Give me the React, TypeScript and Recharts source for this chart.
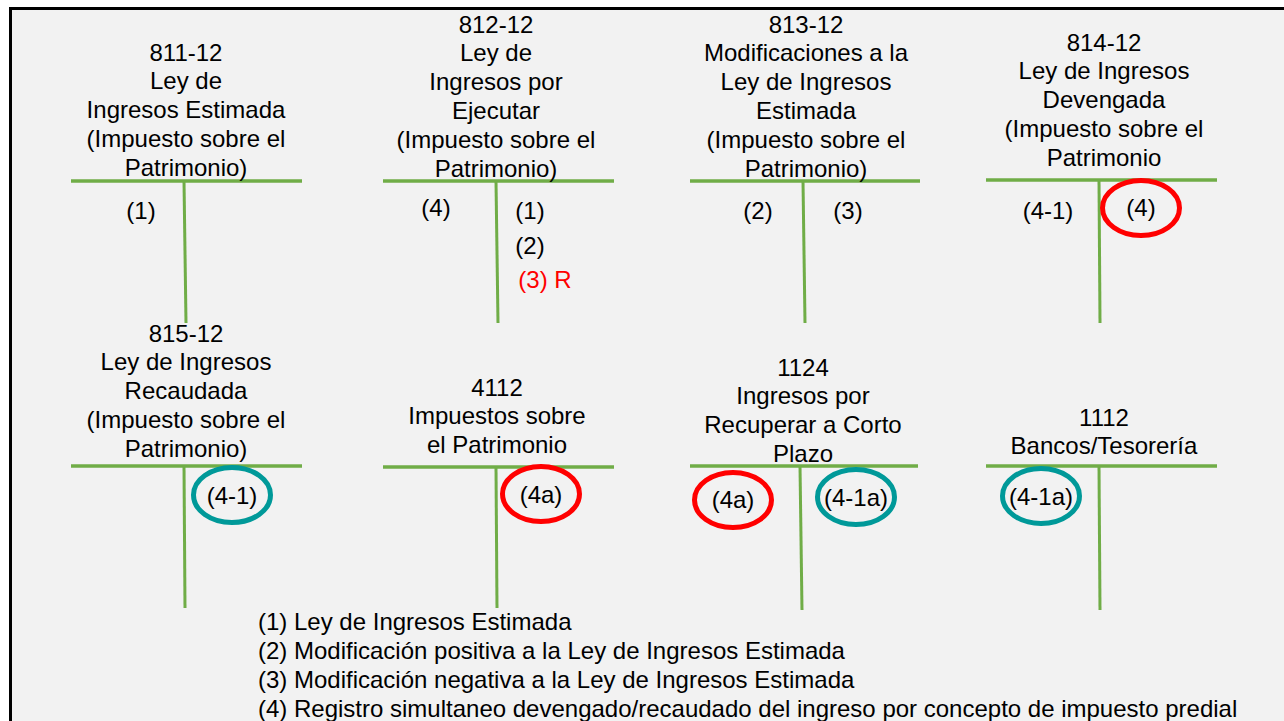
import React from 'react';
import { ComposedChart, XAxis, YAxis, Scatter, ReferenceLine } from 'recharts';

const W = 1284;
const H = 721;
const GREEN = '#70ad47';
const FONT = '"Liberation Sans", Arial, sans-serif';

// T-account titles (one list of lines per account)
const accountTitles: string[][] = [
    ['811-12', 'Ley de', 'Ingresos Estimada', '(Impuesto sobre el', 'Patrimonio)'],
    ['812-12', 'Ley de', 'Ingresos por', 'Ejecutar', '(Impuesto sobre el', 'Patrimonio)'],
    ['813-12', 'Modificaciones a la', 'Ley de Ingresos', 'Estimada', '(Impuesto sobre el', 'Patrimonio)'],
    ['814-12', 'Ley de Ingresos', 'Devengada', '(Impuesto sobre el', 'Patrimonio'],
    ['815-12', 'Ley de Ingresos', 'Recaudada', '(Impuesto sobre el', 'Patrimonio)'],
    ['4112', 'Impuestos sobre', 'el Patrimonio'],
    ['1124', 'Ingresos por', 'Recuperar a Corto', 'Plazo'],
    ['1112', 'Bancos/Tesorería'],
];
const titleX = [186, 496, 806, 1104, 186, 497, 803, 1104];
const titleTopY = [52, 24, 24, 42, 333, 387, 367, 417];
const LINE_STEP = 28.8;

// T lines
const hLineX1 = [71, 383, 690, 986, 71, 383, 690, 986];
const hLineX2 = [302, 614, 920, 1217, 302, 614, 918, 1217];
const hLineY = [181, 181, 181, 180, 466, 467, 466, 466];
const vLineTopX = [184, 496, 803, 1099, 184, 496, 800, 1099];
const vLineBottomX = [186, 498, 805, 1100, 185, 497, 802, 1100];
const vLineBottomY = [323, 323, 323, 323, 608, 608, 610, 610];

// entries inside the accounts
const entryLabels = ['(1)', '(4)', '(1)', '(2)', '(3) R', '(2)', '(3)', '(4-1)', '(4)', '(4-1)', '(4a)', '(4a)', '(4-1a)', '(4-1a)'];
const entryX = [141, 436, 530, 530, 545, 758, 848, 1048, 1141, 232, 541, 733, 856, 1041];
const entryY = [210, 207, 210, 245, 279, 210, 210, 210, 207, 495, 494, 499, 497, 496];
const entryRed = [false, false, false, false, true, false, false, false, false, false, false, false, false, false];

// highlight circles
const circleX = [1141, 232, 541, 733, 856, 1041];
const circleY = [208, 495, 494, 500, 497, 496];
const circleColor = ['#ff0000', '#009999', '#ff0000', '#ff0000', '#009999', '#009999'];

// notes at the bottom
const notes = [
    '(1) Ley de Ingresos Estimada',
    '(2) Modificación positiva a la Ley de Ingresos Estimada',
    '(3) Modificación negativa a la Ley de Ingresos Estimada',
    '(4) Registro simultaneo devengado/recaudado del ingreso por concepto de impuesto predial',
];
const notesX = 258;
const notesTopY = 621;
const NOTE_STEP = 29;

const titleData = accountTitles.flatMap((lines, i) =>
    lines.map((t, j) => ({ x: titleX[i], y: titleTopY[i] + j * LINE_STEP, t }))
);
const entryData = entryLabels.map((t, i) => ({ x: entryX[i], y: entryY[i], t, red: entryRed[i] }));
const circleData = circleX.map((x, i) => ({ x, y: circleY[i], color: circleColor[i] }));
const noteData = notes.map((t, i) => ({ x: notesX, y: notesTopY + i * NOTE_STEP, t }));

const CenterText = (props: any) => (
    <text x={props.cx} y={props.cy} dy="0.36em" textAnchor="middle" fontFamily={FONT} fontSize={24}
        fill={props.payload.red ? '#ff0000' : '#000'}>
        {props.payload.t}
    </text>
);

const LeftText = (props: any) => (
    <text x={props.cx} y={props.cy} dy="0.36em" textAnchor="start" fontFamily={FONT} fontSize={24} fill="#000">
        {props.payload.t}
    </text>
);

const Ring = (props: any) => (
    <ellipse cx={props.cx} cy={props.cy} rx={38.5} ry={27.5} fill="none" stroke={props.payload.color} strokeWidth={5} />
);

export default function App() {
    return (
        <div style={{ position: 'absolute', left: 0, top: 0, width: W, height: H, overflow: 'hidden', background: '#fff' }}>
            <div style={{
                position: 'absolute', left: 9, top: 7, width: W, height: H,
                background: '#f2f2f2', borderTop: '3px solid #000', borderLeft: '3px solid #000',
            }} />
            <div style={{ position: 'absolute', left: 0, top: 0 }}>
                <ComposedChart width={W} height={H} margin={{ top: 0, right: 0, bottom: 0, left: 0 }}>
                    <XAxis type="number" dataKey="x" domain={[0, W]} hide allowDataOverflow />
                    <YAxis type="number" dataKey="y" domain={[0, H]} reversed hide width={0} allowDataOverflow />
                    {hLineX1.map((x1, i) => (
                        <ReferenceLine key={`h${i}`} segment={[{ x: x1, y: hLineY[i] }, { x: hLineX2[i], y: hLineY[i] }]}
                            stroke={GREEN} strokeWidth={3.5} ifOverflow="visible" />
                    ))}
                    {vLineTopX.map((x, i) => (
                        <ReferenceLine key={`v${i}`} segment={[{ x, y: hLineY[i] }, { x: vLineBottomX[i], y: vLineBottomY[i] }]}
                            stroke={GREEN} strokeWidth={3} ifOverflow="visible" />
                    ))}
                    <Scatter data={titleData} shape={CenterText} isAnimationActive={false} />
                    <Scatter data={entryData} shape={CenterText} isAnimationActive={false} />
                    <Scatter data={circleData} shape={Ring} isAnimationActive={false} />
                    <Scatter data={noteData} shape={LeftText} isAnimationActive={false} />
                </ComposedChart>
            </div>
        </div>
    );
}
